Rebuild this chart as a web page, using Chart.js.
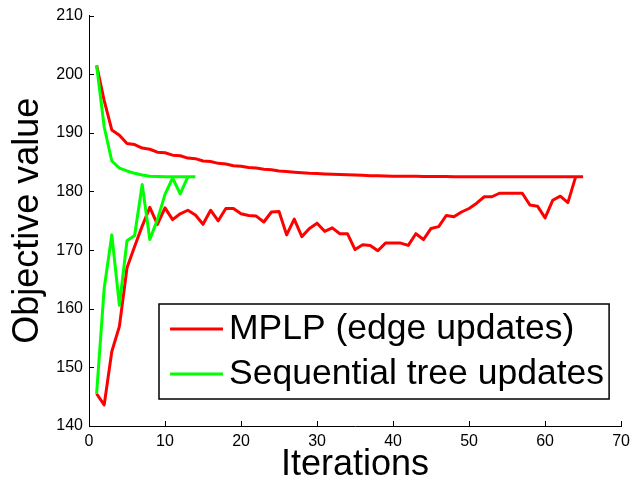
<!DOCTYPE html>
<html>
<head>
<meta charset="utf-8">
<script src="https://cdn.jsdelivr.net/npm/chart.js@4.4.1/dist/chart.umd.min.js"></script>
<style>
  html, body { margin: 0; padding: 0; background: #fff; }
  #wrap { width: 636px; height: 483px; }
</style>
</head>
<body>
<div id="wrap"><canvas id="c" width="636" height="483"></canvas></div>
<script>
// Objective value per iteration: primal (lower) and dual (upper) bounds
const mplpLower = [
  145.5, 143.6, 152.7, 157.0, 167.0, 170.6, 174.1, 177.3, 174.4, 177.2,
  175.2, 176.2, 176.8, 176.0, 174.4, 176.8, 175.0, 177.1, 177.1, 176.2,
  175.9, 175.8, 174.8, 176.5, 176.6, 172.6, 175.3, 172.3, 173.7, 174.6,
  173.2, 173.8, 172.8, 172.8, 170.1, 170.9, 170.8, 169.9, 171.2, 171.2,
  171.2, 170.8, 172.8, 171.8, 173.7, 174.0, 175.9, 175.7, 176.5, 177.1,
  178.0, 179.1, 179.1, 179.7, 179.7, 179.7, 179.7, 177.7, 177.5, 175.5,
  178.5, 179.2, 178.1, 182.4
];
const mplpUpper = [
  201.5, 195.5, 190.5, 189.6, 188.2, 188.0, 187.4, 187.2, 186.7, 186.6,
  186.2, 186.1, 185.7, 185.6, 185.2, 185.1, 184.8, 184.7, 184.4, 184.3,
  184.1, 184.0, 183.8, 183.7, 183.5, 183.4, 183.3, 183.2, 183.1, 183.05,
  183.0, 182.95, 182.9, 182.85, 182.8, 182.75, 182.7, 182.7, 182.65, 182.6,
  182.6, 182.6, 182.6, 182.55, 182.55, 182.55, 182.55, 182.5, 182.5, 182.5,
  182.5, 182.5, 182.5, 182.5, 182.5, 182.5, 182.5, 182.5, 182.5, 182.5,
  182.5, 182.5, 182.5, 182.5, 182.5
];
const treeLower = [
  145.5, 163.5, 172.6, 160.6, 171.6, 172.5, 181.2, 171.8, 175.2, 179.5,
  182.3, 179.6, 182.5
];
const treeUpper = [
  201.5, 191.0, 185.2, 184.0, 183.5, 183.1, 182.8, 182.6, 182.55, 182.5,
  182.5, 182.5, 182.5, 182.5
];
const xTicks = [0, 10, 20, 30, 40, 50, 60, 70];
const yTicks = [140, 150, 160, 170, 180, 190, 200, 210];
const seriesNames = ['MPLP (edge updates)', 'Sequential tree updates'];

const RED = '#ff0000';
const GREEN = '#00ff00';
const FONT = '"Liberation Sans", Arial, Helvetica, sans-serif';

// iteration numbers start at 1
const toPoints = arr => arr.map((v, i) => ({ x: i + 1, y: v }));

function lineSet(label, values, color) {
  return {
    label,
    data: toPoints(values),
    borderColor: color,
    backgroundColor: color,
    borderWidth: 3,
    pointRadius: 0,
    tension: 0,
    fill: false,
    borderJoinStyle: 'round',
    borderCapStyle: 'butt'
  };
}

// inward tick marks on the left and bottom axes
const innerTicks = {
  id: 'innerTicks',
  afterDatasetsDraw(chart) {
    const { ctx, chartArea: a, scales: { x, y } } = chart;
    ctx.save();
    ctx.strokeStyle = '#000';
    ctx.lineWidth = 1;
    ctx.beginPath();
    xTicks.forEach(v => {
      const px = Math.round(x.getPixelForValue(v)) + 0.5;
      ctx.moveTo(px, a.bottom);
      ctx.lineTo(px, a.bottom - 5);
    });
    yTicks.forEach(v => {
      const py = Math.round(y.getPixelForValue(v)) + 0.5;
      ctx.moveTo(a.left, py);
      ctx.lineTo(a.left + 5, py);
    });
    ctx.stroke();
    ctx.restore();
  }
};

// boxed legend inside the lower right of the plot
const boxLegend = {
  id: 'boxLegend',
  afterDraw(chart) {
    const { ctx, chartArea: a } = chart;
    const left = a.left + 70, right = a.right - 12;
    const top = a.bottom - 122, bottom = a.bottom - 27;
    ctx.save();
    ctx.fillStyle = '#fff';
    ctx.fillRect(left, top, right - left, bottom - top);
    ctx.strokeStyle = '#000';
    ctx.lineWidth = 1.5;
    ctx.strokeRect(left, top, right - left, bottom - top);
    const rows = [
      { text: seriesNames[0], color: RED, y: top + 25 },
      { text: seriesNames[1], color: GREEN, y: top + 70 }
    ];
    ctx.font = '35.5px ' + FONT;
    ctx.textBaseline = 'middle';
    ctx.textAlign = 'left';
    rows.forEach(r => {
      ctx.strokeStyle = r.color;
      ctx.lineWidth = 3;
      ctx.beginPath();
      ctx.moveTo(left + 11, r.y);
      ctx.lineTo(left + 64, r.y);
      ctx.stroke();
      ctx.fillStyle = '#000';
      ctx.fillText(r.text, left + 70, r.y);
    });
    ctx.restore();
  }
};

new Chart(document.getElementById('c'), {
  type: 'line',
  data: {
    datasets: [
      lineSet(seriesNames[1], treeLower, GREEN),
      lineSet(seriesNames[1], treeUpper, GREEN),
      lineSet(seriesNames[0], mplpLower, RED),
      lineSet(seriesNames[0], mplpUpper, RED)
    ]
  },
  options: {
    responsive: false,
    animation: false,
    events: [],
    layout: { padding: { left: 0, right: 12, top: 15, bottom: 0 } },
    plugins: { legend: { display: false }, tooltip: { enabled: false } },
    scales: {
      x: {
        type: 'linear',
        min: 0,
        max: 70,
        afterFit: s => { s.height = 57; },
        afterBuildTicks: s => { s.ticks = xTicks.map(v => ({ value: v })); },
        grid: { display: true, drawOnChartArea: false, drawTicks: false },
        border: { display: true, color: '#000', width: 1 },
        ticks: { color: '#000', font: { family: FONT, size: 16 }, padding: 6, maxRotation: 0 },
        title: {
          display: true,
          text: 'Iterations',
          color: '#000',
          font: { family: FONT, size: 36, lineHeight: 1 },
          padding: { top: 0, bottom: 0 }
        }
      },
      y: {
        type: 'linear',
        min: 140,
        max: 210,
        afterFit: s => { s.width = 89; },
        afterBuildTicks: s => { s.ticks = yTicks.map(v => ({ value: v })); },
        grid: { display: true, drawOnChartArea: false, drawTicks: false },
        border: { display: true, color: '#000', width: 1 },
        ticks: { color: '#000', font: { family: FONT, size: 16 }, padding: 6 },
        title: {
          display: true,
          text: 'Objective value',
          color: '#000',
          font: { family: FONT, size: 36, lineHeight: 1 },
          padding: { top: 10, bottom: 0 }
        }
      }
    }
  },
  plugins: [innerTicks, boxLegend]
});
</script>
</body>
</html>
